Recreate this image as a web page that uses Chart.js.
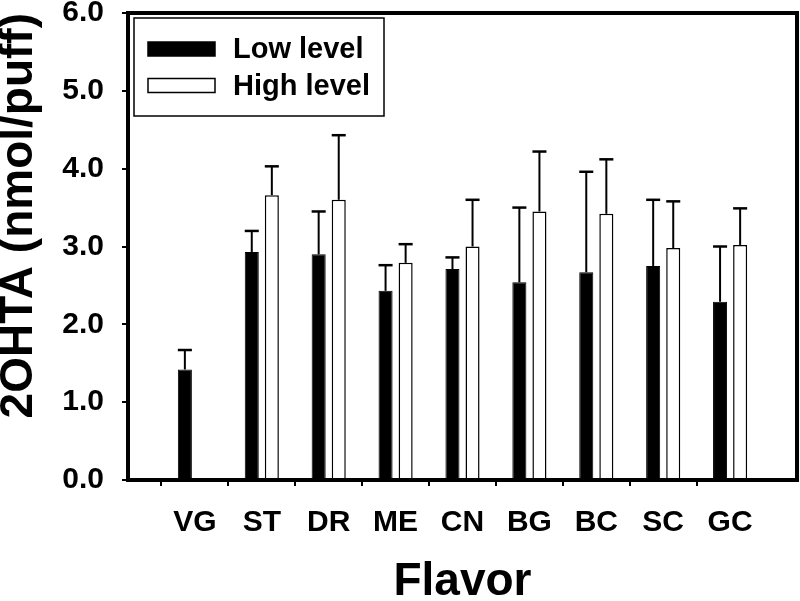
<!DOCTYPE html>
<html>
<head>
<meta charset="utf-8">
<script src="https://cdn.jsdelivr.net/npm/chart.js@4.4.0/dist/chart.umd.min.js"></script>
<style>
  html, body { margin: 0; padding: 0; background: #fff; }
</style>
</head>
<body>
<canvas id="barChart" width="800" height="601"></canvas>
<script>
// data
const flavors = ['VG', 'ST', 'DR', 'ME', 'CN', 'BG', 'BC', 'SC', 'GC'];
const lowLevel = [1.42, 2.93, 2.90, 2.43, 2.71, 2.54, 2.67, 2.75, 2.29];
const lowLevelErr = [0.25, 0.27, 0.55, 0.33, 0.15, 0.96, 1.29, 0.85, 0.71];
const highLevel = [null, 3.66, 3.60, 2.79, 3.00, 3.45, 3.42, 2.98, 3.02];
const highLevelErr = [null, 0.37, 0.83, 0.24, 0.60, 0.77, 0.70, 0.60, 0.47];
const yTicks = [0, 1, 2, 3, 4, 5, 6];

// empty slot on each side, like the original axis
const pad = arr => [null, ...arr, null];
const axisLabels = ['', ...flavors, ''];

Chart.defaults.font.family = '"Liberation Sans", Arial, sans-serif';
Chart.defaults.font.weight = 'bold';
Chart.defaults.color = '#000';

// no automatic margins, the plot box is fixed by layout.padding
const noPadding = s => {
  s.paddingTop = 0;
  s.paddingBottom = 0;
  s.paddingLeft = 0;
  s.paddingRight = 0;
};

// upper error bars with caps
const errorBars = {
  id: 'errorBars',
  afterDatasetsDraw(chart) {
    const ctx = chart.ctx;
    const yScale = chart.scales.y;
    chart.data.datasets.forEach((ds, i) => {
      const meta = chart.getDatasetMeta(i);
      meta.data.forEach((bar, j) => {
        const v = ds.data[j];
        const e = ds.errors[j];
        if (v == null || e == null) return;
        const top = yScale.getPixelForValue(v + e);
        const half = bar.width / 2;
        ctx.save();
        ctx.strokeStyle = '#000';
        ctx.lineWidth = 2;
        ctx.beginPath();
        ctx.moveTo(bar.x, bar.y);
        ctx.lineTo(bar.x, top);
        ctx.stroke();
        ctx.lineWidth = 2.5;
        ctx.beginPath();
        ctx.moveTo(bar.x - half, top);
        ctx.lineTo(bar.x + half, top);
        ctx.stroke();
        ctx.restore();
      });
    });
  }
};

// thick box round the plot
const frame = {
  id: 'frame',
  afterDraw(chart) {
    const {ctx, chartArea: a} = chart;
    ctx.save();
    ctx.strokeStyle = '#000';
    ctx.lineWidth = 4;
    ctx.strokeRect(a.left, a.top, a.right - a.left, a.bottom - a.top);
    ctx.restore();
  }
};

// boxed legend in the top-left corner
const boxLegend = {
  id: 'boxLegend',
  afterDraw(chart) {
    const {ctx, chartArea: a} = chart;
    const x0 = a.left + 6, y0 = a.top + 5;
    ctx.save();
    ctx.fillStyle = '#fff';
    ctx.fillRect(x0, y0, 250, 98);
    ctx.strokeStyle = '#000';
    ctx.lineWidth = 1.5;
    ctx.strokeRect(x0, y0, 250, 98);
    ctx.font = 'bold 29px "Liberation Sans", Arial, sans-serif';
    ctx.textBaseline = 'middle';
    chart.data.datasets.forEach((ds, i) => {
      const cy = y0 + 31 + i * 36.5;
      ctx.fillStyle = ds.backgroundColor;
      ctx.fillRect(x0 + 14, cy - 7, 67, 14);
      ctx.strokeRect(x0 + 14, cy - 7, 67, 14);
      ctx.fillStyle = '#000';
      ctx.fillText(ds.label, x0 + 99, cy + 1);
    });
    ctx.restore();
  }
};

const ctx = document.getElementById('barChart').getContext('2d');

const barChart = new Chart(ctx, {
  type: 'bar',
  data: {
    labels: axisLabels,
    datasets: [
      {
        label: 'Low level',
        data: pad(lowLevel),
        errors: pad(lowLevelErr),
        backgroundColor: '#000',
        borderColor: '#000',
        borderWidth: 1
      },
      {
        label: 'High level',
        data: pad(highLevel),
        errors: pad(highLevelErr),
        backgroundColor: '#fff',
        borderColor: '#000',
        borderWidth: 1.5
      }
    ]
  },
  options: {
    responsive: false,
    animation: false,
    layout: {
      padding: { top: 13, right: 3, left: 0, bottom: 0 },
      autoPadding: false
    },
    datasets: {
      bar: { categoryPercentage: 0.6, barPercentage: 0.7 }
    },
    plugins: {
      legend: { display: false },
      tooltip: { enabled: false }
    },
    scales: {
      x: {
        offset: false,
        border: { display: false },
        grid: {
          drawOnChartArea: false,
          tickLength: 6,
          lineWidth: 2,
          color: c => (c.index === 0 || c.index === axisLabels.length - 1) ? 'transparent' : '#000'
        },
        ticks: {
          autoSkip: false,
          maxRotation: 0,
          padding: 19,
          font: { size: 30, weight: 'bold' }
        },
        title: {
          display: true,
          text: 'Flavor',
          font: { size: 46, weight: 'bold', lineHeight: 1 },
          padding: { top: 0, bottom: -4 }
        },
        afterFit: s => { s.height = 121; noPadding(s); }
      },
      y: {
        min: 0,
        max: 6,
        border: { display: false },
        grid: {
          drawOnChartArea: false,
          tickLength: 6,
          lineWidth: 2,
          color: '#000'
        },
        afterBuildTicks: s => { s.ticks = yTicks.map(v => ({ value: v })); },
        ticks: {
          padding: 18,
          font: { size: 30, weight: 'bold' },
          callback: v => Number(v).toFixed(1)
        },
        title: {
          display: true,
          text: '2OHTA (nmol/puff)',
          align: 'end',
          font: { size: 46, weight: 'bold', lineHeight: 1 },
          padding: { top: -4, bottom: 0 }
        },
        afterFit: s => { s.width = 128; noPadding(s); }
      }
    }
  },
  plugins: [errorBars, frame, boxLegend]
});
</script>
</body>
</html>
